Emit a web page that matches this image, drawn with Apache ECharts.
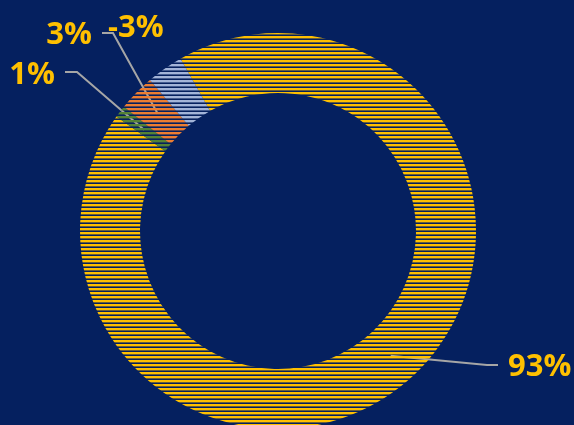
<!DOCTYPE html>
<html>
<head>
<meta charset="utf-8">
<script src="https://cdn.jsdelivr.net/npm/echarts@6/dist/echarts.min.js"></script>
<style>
html,body{margin:0;padding:0;background:#05205f;}
#chart{width:574px;height:425px;}
</style>
</head>
<body>
<div id="chart"></div>
<script>
// ---- data ----
var categories = ['A', 'B', 'C', 'D'];
var signedValues = [93, 1, 3, -3];
var labelTexts = ['93%', '1%', '3%', '-3%'];
var sliceColors = ['#FFC000', '#548235', '#ED7D31', '#A3B4D8'];

// ---- layout config ----
var CX = 278, CY = 231, R0 = 138, R1 = 198, START = 119.5;
var labelSpec = [
  {x: 508, y: 367, align: 'left', elbow: [487, 365], end: [498, 365]},
  {x: 55, y: 75, align: 'right', elbow: [77, 72], end: [65, 72]},
  {x: 92, y: 35, align: 'right', elbow: [113, 33], end: [102, 33]},
  {x: 108, y: 28, align: 'left', elbow: null, end: null}
];

function stripe(color) {
  var c = document.createElement('canvas');
  c.width = 4; c.height = 4;
  var ctx = c.getContext('2d');
  ctx.fillStyle = color;
  ctx.fillRect(0, 0, 4, 2);
  ctx.globalAlpha = 0.4;
  ctx.fillRect(0, 2, 4, 1);
  return {image: c, repeat: 'repeat'};
}

var absVals = signedValues.map(function (v) { return Math.abs(v); });
var total = absVals.reduce(function (a, b) { return a + b; }, 0);
function midAngle(i) {
  var before = 0;
  for (var k = 0; k < i; k++) before += absVals[k];
  var deg = START - (before + absVals[i] / 2) / total * 360;
  return deg * Math.PI / 180;
}

var data = categories.map(function (name, i) {
  return {
    name: name,
    value: absVals[i],
    itemStyle: {color: stripe(sliceColors[i])},
    labelLine: {show: labelSpec[i].elbow !== null}
  };
});

var chart = echarts.init(document.getElementById('chart'), null, {renderer: 'canvas'});
chart.setOption({
  backgroundColor: '#05205f',
  animation: false,
  series: [{
    type: 'pie',
    center: [CX, CY],
    radius: [R0, R1],
    startAngle: START,
    clockwise: true,
    avoidLabelOverlap: false,
    itemStyle: {borderWidth: 0},
    label: {
      show: true,
      position: 'outside',
      formatter: function (p) { return labelTexts[p.dataIndex]; },
      color: '#FFC000',
      fontFamily: 'Open Sans',
      fontWeight: 'bold',
      fontSize: 31
    },
    labelLine: {
      show: true,
      lineStyle: {color: '#A6A6A6', width: 2}
    },
    labelLayout: function (p) {
      var s = labelSpec[p.dataIndex];
      var a = midAngle(p.dataIndex);
      var rm = (R0 + R1) / 2;
      var res = {x: s.x, y: s.y, align: s.align, verticalAlign: 'middle'};
      if (s.elbow) {
        res.labelLinePoints = [
          [CX + rm * Math.cos(a), CY - rm * Math.sin(a)],
          s.elbow,
          s.end
        ];
      }
      return res;
    },
    data: data
  }]
});
</script>
</body>
</html>
